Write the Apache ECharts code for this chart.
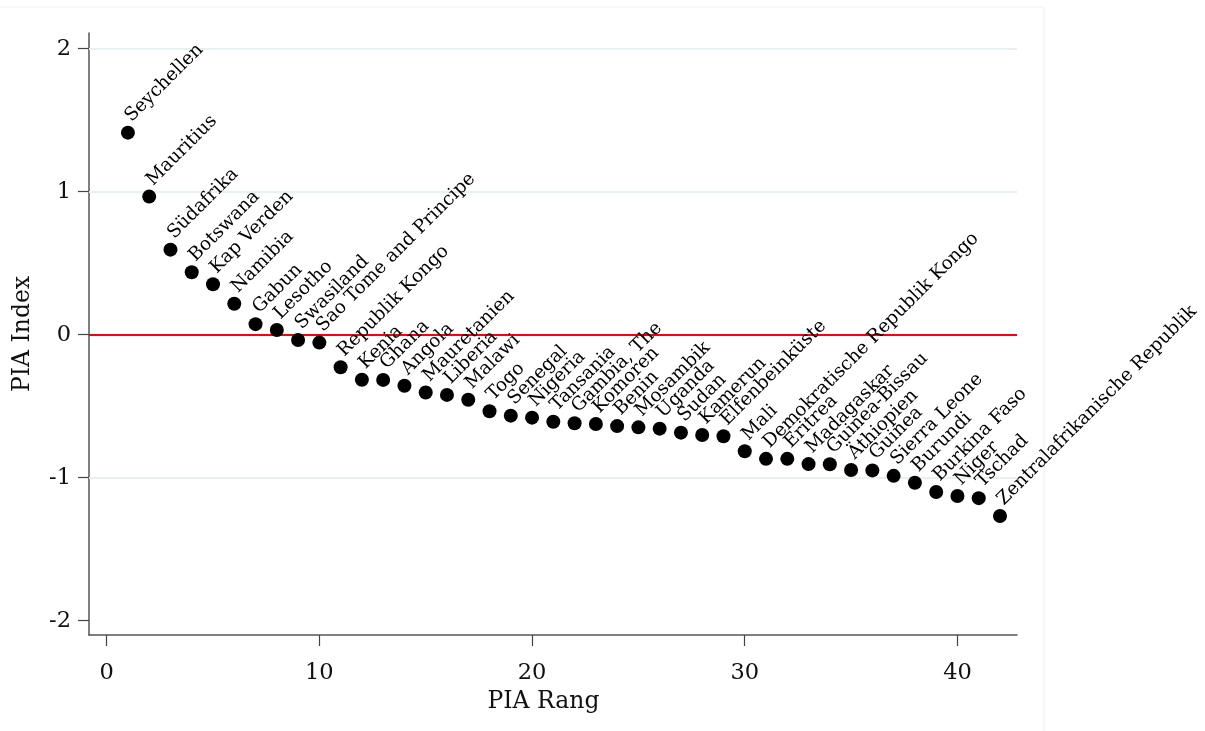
<!DOCTYPE html>
<html>
<head>
<meta charset="utf-8">
<script src="https://cdn.jsdelivr.net/npm/echarts@6/dist/echarts.min.js"></script>
<style>
html,body{margin:0;padding:0;background:#fff;}
#chart{width:1205px;height:731px;}
</style>
</head>
<body>
<div id="chart"></div>
<script>
const countries = ["Seychellen","Mauritius","Südafrika","Botswana","Kap Verden","Namibia","Gabun","Lesotho","Swasiland","Sao Tome and Principe","Republik Kongo","Kenia","Ghana","Angola","Mauretanien","Liberia","Malawi","Togo","Senegal","Nigeria","Tansania","Gambia, The","Komoren","Benin","Mosambik","Uganda","Sudan","Kamerun","Elfenbeinküste","Mali","Demokratische Republik Kongo","Eritrea","Madagaskar","Guinea-Bissau","Äthiopien","Guinea","Sierra Leone","Burundi","Burkina Faso","Niger","Tschad","Zentralafrikanische Republik"];
const ranks = [1,2,3,4,5,6,7,8,9,10,11,12,13,14,15,16,17,18,19,20,21,22,23,24,25,26,27,28,29,30,31,32,33,34,35,36,37,38,39,40,41,42];
const piaIndex = [1.413,0.966,0.595,0.437,0.353,0.217,0.074,0.033,-0.037,-0.055,-0.228,-0.315,-0.316,-0.357,-0.404,-0.421,-0.455,-0.535,-0.566,-0.580,-0.609,-0.619,-0.624,-0.639,-0.648,-0.657,-0.685,-0.701,-0.710,-0.815,-0.868,-0.868,-0.905,-0.906,-0.946,-0.949,-0.987,-1.035,-1.100,-1.128,-1.143,-1.268];
const xTicks = [0,10,20,30,40];
const yTicks = [-2,-1,0,1,2];
const gridValues = [-1,1,2];
const refValue = 0;

const serif = 'DejaVu Serif';
const chart = echarts.init(document.getElementById('chart'), null, {renderer:'canvas'});
chart.setOption({
  animation:false,
  backgroundColor:'#ffffff',
  graphic:[{type:'rect', shape:{x:-2,y:7,width:1046,height:740}, style:{fill:'none', stroke:'#edf2f4', lineWidth:1}, z:-10}],
  grid:{left:89, right:188, top:33, bottom:96, containLabel:false},
  xAxis:{
    type:'value', min:-0.83, max:42.8,
    name:'PIA Rang', nameLocation:'middle', nameGap:55,
    nameTextStyle:{fontFamily:serif, fontSize:23.5, color:'#111', padding:[0,19,0,0]},
    axisLine:{show:true, onZero:false, lineStyle:{color:'#555', width:1.5}},
    axisTick:{show:true, customValues:xTicks, length:11, lineStyle:{color:'#444', width:1.2}},
    axisLabel:{customValues:xTicks, fontFamily:serif, fontSize:22.5, color:'#111', margin:27},
    splitLine:{show:false}
  },
  yAxis:{
    type:'value', min:-2.1, max:2.11,
    name:'PIA Index', nameLocation:'middle', nameGap:54, nameRotate:90,
    nameTextStyle:{fontFamily:serif, fontSize:23.5, color:'#111'},
    axisLine:{show:true, onZero:false, lineStyle:{color:'#555', width:1.5}},
    axisTick:{show:true, customValues:yTicks, length:11, lineStyle:{color:'#444', width:1.2}},
    axisLabel:{customValues:yTicks, fontFamily:serif, fontSize:22.5, color:'#111', margin:18},
    splitLine:{show:false}
  },
  series:[
    {
      type:'line', data:[], silent:true, z:1,
      markLine:{
        z:1, silent:true, symbol:'none', animation:false,
        label:{show:false},
        data:[
          ...gridValues.map(v=>({yAxis:v, lineStyle:{color:'#e9f0f2', width:2, type:'solid'}})),
          {yAxis:refValue, lineStyle:{color:'#ff0000', width:2, type:'solid'}}
        ]
      }
    },
    {
      type:'scatter', z:3,
      data: ranks.map((r,i)=>[r, piaIndex[i]]),
      symbol:'circle', symbolSize:14,
      itemStyle:{color:'#000', opacity:1},
      label:{
        show:true,
        formatter:p=>countries[p.dataIndex],
        position:[14,0], rotate:45, align:'left', verticalAlign:'bottom',
        fontFamily:serif, fontSize:18.5, color:'#000', textBorderWidth:0
      }
    }
  ]
});
</script>
</body>
</html>
